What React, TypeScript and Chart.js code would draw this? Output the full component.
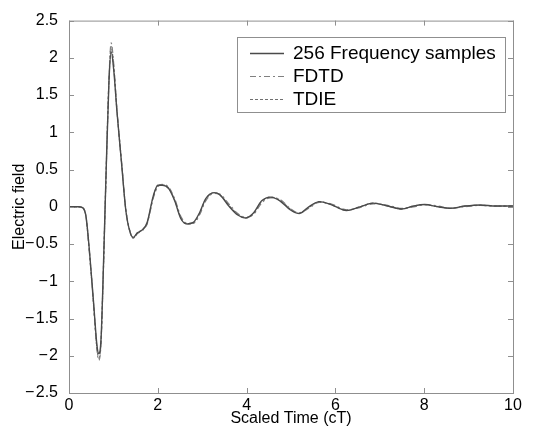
import React, { useEffect, useRef } from "react";
import { Chart, registerables } from "chart.js";

Chart.register(...registerables);

const timeSamples = [
  0, 0.22, 0.3, 0.38, 0.46, 0.55, 0.63, 0.67, 0.72, 0.76, 0.83, 0.9, 0.95, 1.01, 1.08, 1.18, 1.28, 1.38,
  1.45, 1.54, 1.65, 1.76, 1.9, 2.0, 2.1, 2.25, 2.38, 2.52, 2.66, 2.8, 2.94, 3.08, 3.27, 3.4, 3.6,
  3.8, 3.98, 4.16, 4.34, 4.54, 4.75, 4.98, 5.18, 5.4, 5.64, 5.9, 6.25, 6.55, 6.85, 7.18, 7.49, 7.76,
  8.01, 8.31, 8.58, 8.92, 9.26, 9.62, 10,
];

const freqSamples = [
  0, 0, -0.01, -0.12, -0.59, -1.26, -1.86, -1.97, -1.79, -1.12, 0.35, 1.68, 2.08, 1.82, 1.28, 0.61, -0.05,
  -0.35, -0.41, -0.35, -0.31, -0.21, 0.15, 0.29, 0.29, 0.24, 0.08, -0.16, -0.23, -0.21, -0.08, 0.11, 0.19,
  0.16, 0.01, -0.11, -0.15, -0.08, 0.08, 0.13, 0.08, -0.04, -0.09, 0, 0.07, 0.03, -0.05, 0, 0.05, 0.01,
  -0.03, 0.01, 0.03, 0, -0.02, 0.01, 0.025, 0.01, 0.01,
];

const fdtdValues = [
  0, 0, -0.01, -0.13, -0.62, -1.3, -1.93, -2.06, -1.85, -1.15, 0.32, 1.72, 2.2, 1.9, 1.3, 0.63, -0.03,
  -0.34, -0.42, -0.36, -0.32, -0.23, 0.12, 0.27, 0.3, 0.26, 0.11, -0.13, -0.22, -0.22, -0.11, 0.08, 0.18,
  0.17, 0.04, -0.09, -0.14, -0.1, 0.05, 0.12, 0.1, -0.02, -0.08, -0.02, 0.06, 0.04, -0.04, -0.01, 0.04, 0.02,
  -0.02, 0, 0.03, 0.01, -0.02, 0, 0.02, 0.01, 0.01,
];

const tdieValues = [
  0, 0, -0.01, -0.12, -0.6, -1.28, -1.9, -2.03, -1.83, -1.14, 0.34, 1.7, 2.15, 1.86, 1.29, 0.62, -0.04,
  -0.35, -0.42, -0.35, -0.31, -0.22, 0.14, 0.28, 0.29, 0.25, 0.09, -0.15, -0.23, -0.22, -0.09, 0.1, 0.19,
  0.16, 0.02, -0.1, -0.15, -0.09, 0.07, 0.13, 0.09, -0.03, -0.09, -0.01, 0.07, 0.03, -0.05, 0, 0.05, 0.01,
  -0.03, 0.01, 0.03, 0, -0.02, 0.01, 0.02, 0.01, 0.01,
];

const seriesLabels = ["256 Frequency samples", "FDTD", "TDIE"];
const xTicks = [0, 2, 4, 6, 8, 10];
const yTicks = [-2.5, -2, -1.5, -1, -0.5, 0, 0.5, 1, 1.5, 2, 2.5];
const xTitle = "Scaled Time (cT)";
const yTitle = "Electric field";

const FONT = "'Liberation Sans', Arial, Helvetica, sans-serif";

const boxPlugin = {
  id: "matlabBox",
  afterDraw(chart: any) {
    const { ctx, chartArea } = chart;
    const { left, right, top, bottom } = chartArea;
    const xs = chart.scales.x;
    const ys = chart.scales.y;
    ctx.save();
    ctx.strokeStyle = "#8f8f8f";
    ctx.lineWidth = 1;
    ctx.strokeRect(left + 0.5, top + 0.5, right - left, bottom - top);
    ctx.beginPath();
    const tl = 5;
    xTicks.forEach((v) => {
      const px = Math.round(xs.getPixelForValue(v)) + 0.5;
      ctx.moveTo(px, bottom);
      ctx.lineTo(px, bottom - tl);
      ctx.moveTo(px, top);
      ctx.lineTo(px, top + tl);
    });
    yTicks.forEach((v) => {
      const py = Math.round(ys.getPixelForValue(v)) + 0.5;
      ctx.moveTo(left, py);
      ctx.lineTo(left + tl, py);
      ctx.moveTo(right, py);
      ctx.lineTo(right - tl, py);
    });
    ctx.stroke();

    // axis titles
    ctx.fillStyle = "#000";
    ctx.font = `16px ${FONT}`;
    ctx.textAlign = "center";
    ctx.textBaseline = "middle";
    ctx.fillText(xTitle, (left + right) / 2, 419);
    ctx.save();
    ctx.translate(20, (top + bottom) / 2);
    ctx.rotate(-Math.PI / 2);
    ctx.fillText(yTitle, 0, 0);
    ctx.restore();

    // legend
    const lx = 237, ly = 37, lw = 268, lh = 75;
    ctx.fillStyle = "#ffffff";
    ctx.fillRect(lx, ly, lw, lh);
    ctx.strokeStyle = "#8f8f8f";
    ctx.lineWidth = 1;
    ctx.strokeRect(lx + 0.5, ly + 0.5, lw, lh);
    const rows = [53, 76, 99];
    chart.data.datasets.forEach((ds: any, i: number) => {
      const y = rows[i] + 0.5;
      ctx.beginPath();
      ctx.setLineDash(ds.borderDash || []);
      ctx.strokeStyle = ds.borderColor;
      ctx.lineWidth = ds.borderWidth;
      ctx.moveTo(250, y);
      ctx.lineTo(284, y);
      ctx.stroke();
      ctx.setLineDash([]);
      ctx.fillStyle = "#000";
      ctx.font = `19px ${FONT}`;
      ctx.textBaseline = "middle";
      ctx.textAlign = "left";
      ctx.fillText(ds.label, 293, rows[i] + 1);
    });
    ctx.restore();
  },
};

export default function App() {
  const ref = useRef<HTMLCanvasElement | null>(null);
  useEffect(() => {
    document.body.style.margin = "0";
    const canvas = ref.current;
    if (!canvas) return;
    const mk = (vals: number[]) => timeSamples.map((t, i) => ({ x: t, y: vals[i] }));
    const chart = new Chart(canvas, {
      type: "line",
      data: {
        datasets: [
          {
            label: seriesLabels[0],
            data: mk(freqSamples),
            borderColor: "#4a4a4a",
            borderWidth: 1.4,
            pointRadius: 0,
            cubicInterpolationMode: "monotone",
          },
          {
            label: seriesLabels[1],
            data: mk(fdtdValues),
            borderColor: "#808080",
            borderWidth: 1.2,
            borderDash: [6, 3, 2, 3],
            pointRadius: 0,
            cubicInterpolationMode: "monotone",
          },
          {
            label: seriesLabels[2],
            data: mk(tdieValues),
            borderColor: "#707070",
            borderWidth: 1.2,
            borderDash: [3, 2],
            pointRadius: 0,
            cubicInterpolationMode: "monotone",
          },
        ],
      },
      options: {
        animation: false,
        responsive: false,
        layout: { padding: { top: 19, right: 41, left: 0, bottom: 0 } },
        plugins: { legend: { display: false }, tooltip: { enabled: false } },
        scales: {
          x: {
            type: "linear",
            min: 0,
            max: 10,
            afterBuildTicks: (s: any) => {
              s.ticks = xTicks.map((v) => ({ value: v }));
            },
            afterFit: (s: any) => {
              s.height = 42;
            },
            grid: { display: false, drawTicks: false },
            border: { display: false },
            ticks: {
              color: "#000",
              font: { family: FONT, size: 16 },
              padding: 3,
              maxRotation: 0,
              callback: (v: any) => String(v),
            },
          },
          y: {
            type: "linear",
            min: -2.5,
            max: 2.5,
            afterBuildTicks: (s: any) => {
              s.ticks = yTicks.map((v) => ({ value: v }));
            },
            afterFit: (s: any) => {
              s.width = 69;
            },
            grid: { display: false, drawTicks: false },
            border: { display: false },
            ticks: {
              color: "#000",
              font: { family: FONT, size: 16 },
              padding: 11,
              callback: (v: any) => (v < 0 ? "\u2212\u200A" + String(-v) : String(v)),
            },
          },
        },
      },
      plugins: [boxPlugin],
    } as any);
    return () => chart.destroy();
  }, []);
  return <canvas ref={ref} width={554} height={435} style={{ display: "block" }} />;
}
